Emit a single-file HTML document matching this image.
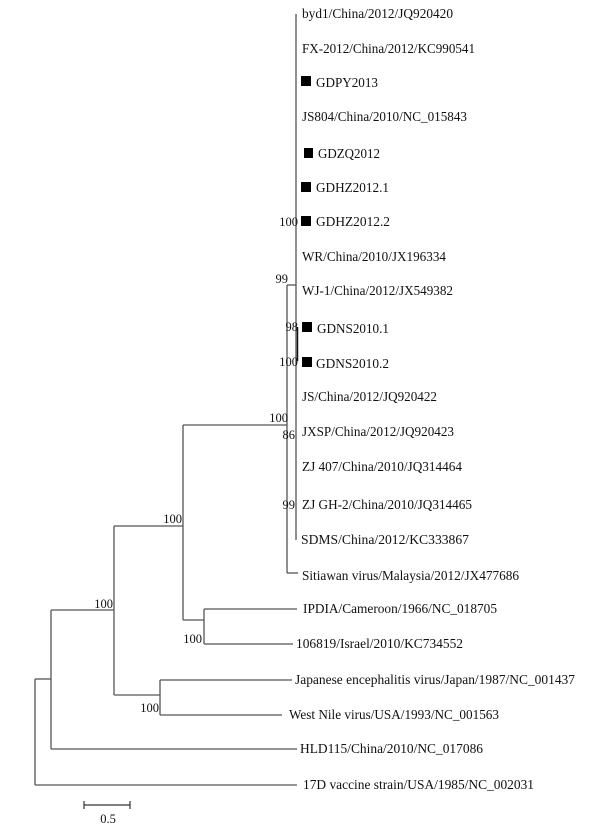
<!DOCTYPE html>
<html><head><meta charset="utf-8"><style>
html,body{margin:0;padding:0;background:#fff;}
svg{display:block;}
text{font-family:"Liberation Serif",serif;font-size:13.4px;fill:#111;}
.b{font-size:12.5px;}
</style></head><body>
<svg width="602" height="827" viewBox="0 0 602 827" xmlns="http://www.w3.org/2000/svg">
<g stroke="#555" stroke-width="1.3" fill="none">
<line x1="35" y1="679" x2="35" y2="785"/>
<line x1="35" y1="785" x2="297" y2="785"/>
<line x1="35" y1="679" x2="51" y2="679"/>
<line x1="51" y1="610" x2="51" y2="749"/>
<line x1="51" y1="749" x2="297" y2="749"/>
<line x1="51" y1="610" x2="114" y2="610"/>
<line x1="114" y1="526" x2="114" y2="695"/>
<line x1="114" y1="526" x2="183" y2="526"/>
<line x1="114" y1="695" x2="160" y2="695"/>
<line x1="160" y1="680" x2="160" y2="715"/>
<line x1="160" y1="680" x2="292" y2="680"/>
<line x1="160" y1="715" x2="282" y2="715"/>
<line x1="183" y1="425" x2="183" y2="620"/>
<line x1="183" y1="620" x2="204" y2="620"/>
<line x1="183" y1="425" x2="287" y2="425"/>
<line x1="204" y1="609" x2="204" y2="644"/>
<line x1="204" y1="609" x2="297" y2="609"/>
<line x1="204" y1="644" x2="293" y2="644"/>
<line x1="287" y1="285" x2="287" y2="573"/>
<line x1="287" y1="573" x2="298" y2="573"/>
<line x1="287" y1="285" x2="296" y2="285"/>
<line x1="296" y1="14" x2="296" y2="540"/>
</g>
<line x1="297.5" y1="327" x2="297.5" y2="361" stroke="#111" stroke-width="1.5"/>
<g fill="#000">
<rect x="301" y="76" width="10" height="10"/>
<rect x="304" y="148" width="9" height="10"/>
<rect x="301" y="182" width="10" height="10"/>
<rect x="301" y="216" width="10" height="10"/>
<rect x="302" y="322" width="10" height="10"/>
<rect x="302" y="357" width="10" height="10"/>
</g>
<g>
<text x="302" y="18" textLength="151" lengthAdjust="spacingAndGlyphs">byd1/China/2012/JQ920420</text>
<text x="302" y="53" textLength="173" lengthAdjust="spacingAndGlyphs">FX-2012/China/2012/KC990541</text>
<text x="316" y="87" textLength="62" lengthAdjust="spacingAndGlyphs">GDPY2013</text>
<text x="302" y="121" textLength="165" lengthAdjust="spacingAndGlyphs">JS804/China/2010/NC_015843</text>
<text x="318" y="158" textLength="62" lengthAdjust="spacingAndGlyphs">GDZQ2012</text>
<text x="316" y="192" textLength="73" lengthAdjust="spacingAndGlyphs">GDHZ2012.1</text>
<text x="316" y="226" textLength="74" lengthAdjust="spacingAndGlyphs">GDHZ2012.2</text>
<text x="302" y="261" textLength="144" lengthAdjust="spacingAndGlyphs">WR/China/2010/JX196334</text>
<text x="302" y="295" textLength="151" lengthAdjust="spacingAndGlyphs">WJ-1/China/2012/JX549382</text>
<text x="317" y="333" textLength="72" lengthAdjust="spacingAndGlyphs">GDNS2010.1</text>
<text x="316" y="368" textLength="73" lengthAdjust="spacingAndGlyphs">GDNS2010.2</text>
<text x="302" y="401" textLength="135" lengthAdjust="spacingAndGlyphs">JS/China/2012/JQ920422</text>
<text x="302" y="436" textLength="152" lengthAdjust="spacingAndGlyphs">JXSP/China/2012/JQ920423</text>
<text x="302" y="471" textLength="160" lengthAdjust="spacingAndGlyphs">ZJ 407/China/2010/JQ314464</text>
<text x="302" y="509" textLength="170" lengthAdjust="spacingAndGlyphs">ZJ GH-2/China/2010/JQ314465</text>
<text x="301" y="544" textLength="168" lengthAdjust="spacingAndGlyphs">SDMS/China/2012/KC333867</text>
<text x="302" y="580" textLength="217" lengthAdjust="spacingAndGlyphs">Sitiawan virus/Malaysia/2012/JX477686</text>
<text x="303" y="613" textLength="194" lengthAdjust="spacingAndGlyphs">IPDIA/Cameroon/1966/NC_018705</text>
<text x="296" y="648" textLength="167" lengthAdjust="spacingAndGlyphs">106819/Israel/2010/KC734552</text>
<text x="295" y="684" textLength="280" lengthAdjust="spacingAndGlyphs">Japanese encephalitis virus/Japan/1987/NC_001437</text>
<text x="289" y="719" textLength="210" lengthAdjust="spacingAndGlyphs">West Nile virus/USA/1993/NC_001563</text>
<text x="300" y="753" textLength="183" lengthAdjust="spacingAndGlyphs">HLD115/China/2010/NC_017086</text>
<text x="303" y="789" textLength="231" lengthAdjust="spacingAndGlyphs">17D vaccine strain/USA/1985/NC_002031</text>
</g>
<g text-anchor="end">
<text class="b" x="298" y="226">100</text>
<text class="b" x="288" y="283">99</text>
<text class="b" x="298" y="331">98</text>
<text class="b" x="298" y="366">100</text>
<text class="b" x="288" y="422">100</text>
<text class="b" x="295" y="439">86</text>
<text class="b" x="295" y="509">99</text>
<text class="b" x="182" y="523">100</text>
<text class="b" x="113" y="608">100</text>
<text class="b" x="202" y="643">100</text>
<text class="b" x="159" y="712">100</text>
</g>
<g stroke="#333" stroke-width="1.2">
<line x1="84" y1="805" x2="130" y2="805"/>
<line x1="84" y1="801" x2="84" y2="809"/>
<line x1="130" y1="801" x2="130" y2="809"/>
</g>
<text class="b" x="108" y="823" text-anchor="middle">0.5</text>
</svg>
</body></html>
